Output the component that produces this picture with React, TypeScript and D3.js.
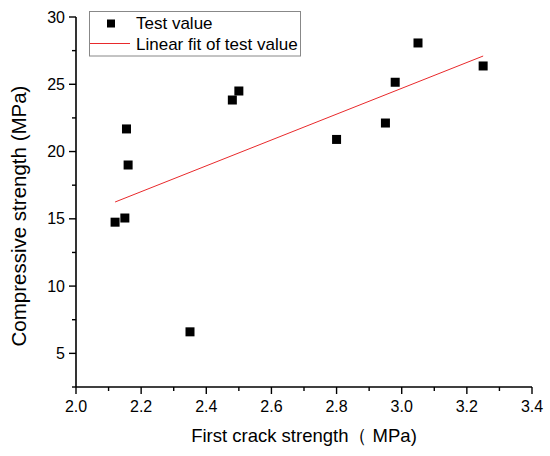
import * as d3 from "d3";

const W = 550;
const H = 456;
const M = { left: 76, right: 18, top: 17, bottom: 69 };

// test points
const crackStrength = [2.12, 2.15, 2.155, 2.16, 2.35, 2.48, 2.5, 2.8, 2.95, 2.98, 3.05, 3.25];
const compressive = [14.75, 15.06, 21.68, 19.0, 6.6, 23.83, 24.5, 20.9, 22.12, 25.15, 28.07, 26.36];

// end points of the linear fit line
const fitX = [2.12, 3.25];
const fitY = [16.25, 27.1];

const xTicks = [2.0, 2.2, 2.4, 2.6, 2.8, 3.0, 3.2, 3.4];
const yTicks = [5, 10, 15, 20, 25, 30];

const FONT = "'Liberation Sans', Arial, sans-serif";

export default function App() {
	const x = d3.scaleLinear().domain([2.0, 3.4]).range([M.left, W - M.right]);
	const y = d3.scaleLinear().domain([2.5, 30]).range([H - M.bottom, M.top]);

	const xMinor = d3.range(2.1, 3.4, 0.2);
	const yMinor = d3.range(2.5, 30, 5);

	const fitPath = d3.line<number>()
		.x((d) => x(d))
		.y((_, i) => y(fitY[i]))(fitX);

	const x0 = x.range()[0];
	const y0 = y.range()[0];
	const size = 9;

	return (
		<svg width={W} height={H} style={{ position: "fixed", left: 0, top: 0, background: "#fff" }} fontFamily={FONT}>
			{/* axes */}
			<line x1={x0} x2={x(3.4)} y1={y0} y2={y0} stroke="#000" strokeWidth={1.6} />
			<line x1={x0} x2={x0} y1={y0} y2={y(30)} stroke="#000" strokeWidth={1.6} />
			{xTicks.map((t) => (
				<g key={"xt" + t}>
					<line x1={x(t)} x2={x(t)} y1={y0} y2={y0 + 7} stroke="#000" strokeWidth={1.4} />
					<text x={x(t)} y={y0 + 25} textAnchor="middle" fontSize={16}>{t.toFixed(1)}</text>
				</g>
			))}
			{xMinor.map((t) => (
				<line key={"xm" + t} x1={x(t)} x2={x(t)} y1={y0} y2={y0 + 4} stroke="#000" strokeWidth={1.4} />
			))}
			{yTicks.map((t) => (
				<g key={"yt" + t}>
					<line x1={x0 - 7} x2={x0} y1={y(t)} y2={y(t)} stroke="#000" strokeWidth={1.4} />
					<text x={x0 - 11} y={y(t)} textAnchor="end" dominantBaseline="central" fontSize={16}>{t}</text>
				</g>
			))}
			{yMinor.map((t) => (
				<line key={"ym" + t} x1={x0 - 4} x2={x0} y1={y(t)} y2={y(t)} stroke="#000" strokeWidth={1.4} />
			))}

			{/* axis titles */}
			<text x={(x0 + x(3.4)) / 2} y={442} textAnchor="middle" fontSize={18.5}>First crack strength（ MPa)</text>
			<text transform={`translate(26, ${(y0 + y(30)) / 2 + 14}) rotate(-90)`} textAnchor="middle" fontSize={20.5}>
				Compressive strength (MPa)
			</text>

			{/* fit */}
			<path d={fitPath ?? ""} fill="none" stroke="#e8292b" strokeWidth={1} />

			{/* points */}
			{crackStrength.map((cs, i) => (
				<rect key={i} x={x(cs) - size / 2} y={y(compressive[i]) - size / 2} width={size} height={size} fill="#000" />
			))}

			{/* legend */}
			<g>
				<rect x={89.5} y={11.5} width={211} height={44.5} fill="#fff" stroke="#888" strokeWidth={1} />
				<rect x={111 - 4} y={23.5 - 4} width={8} height={8} fill="#000" />
				<text x={136} y={29} fontSize={17}>Test value</text>
				<line x1={90} x2={130} y1={43.5} y2={43.5} stroke="#e8292b" strokeWidth={1} />
				<text x={136} y={50} fontSize={17}>Linear fit of test value</text>
			</g>
		</svg>
	);
}
